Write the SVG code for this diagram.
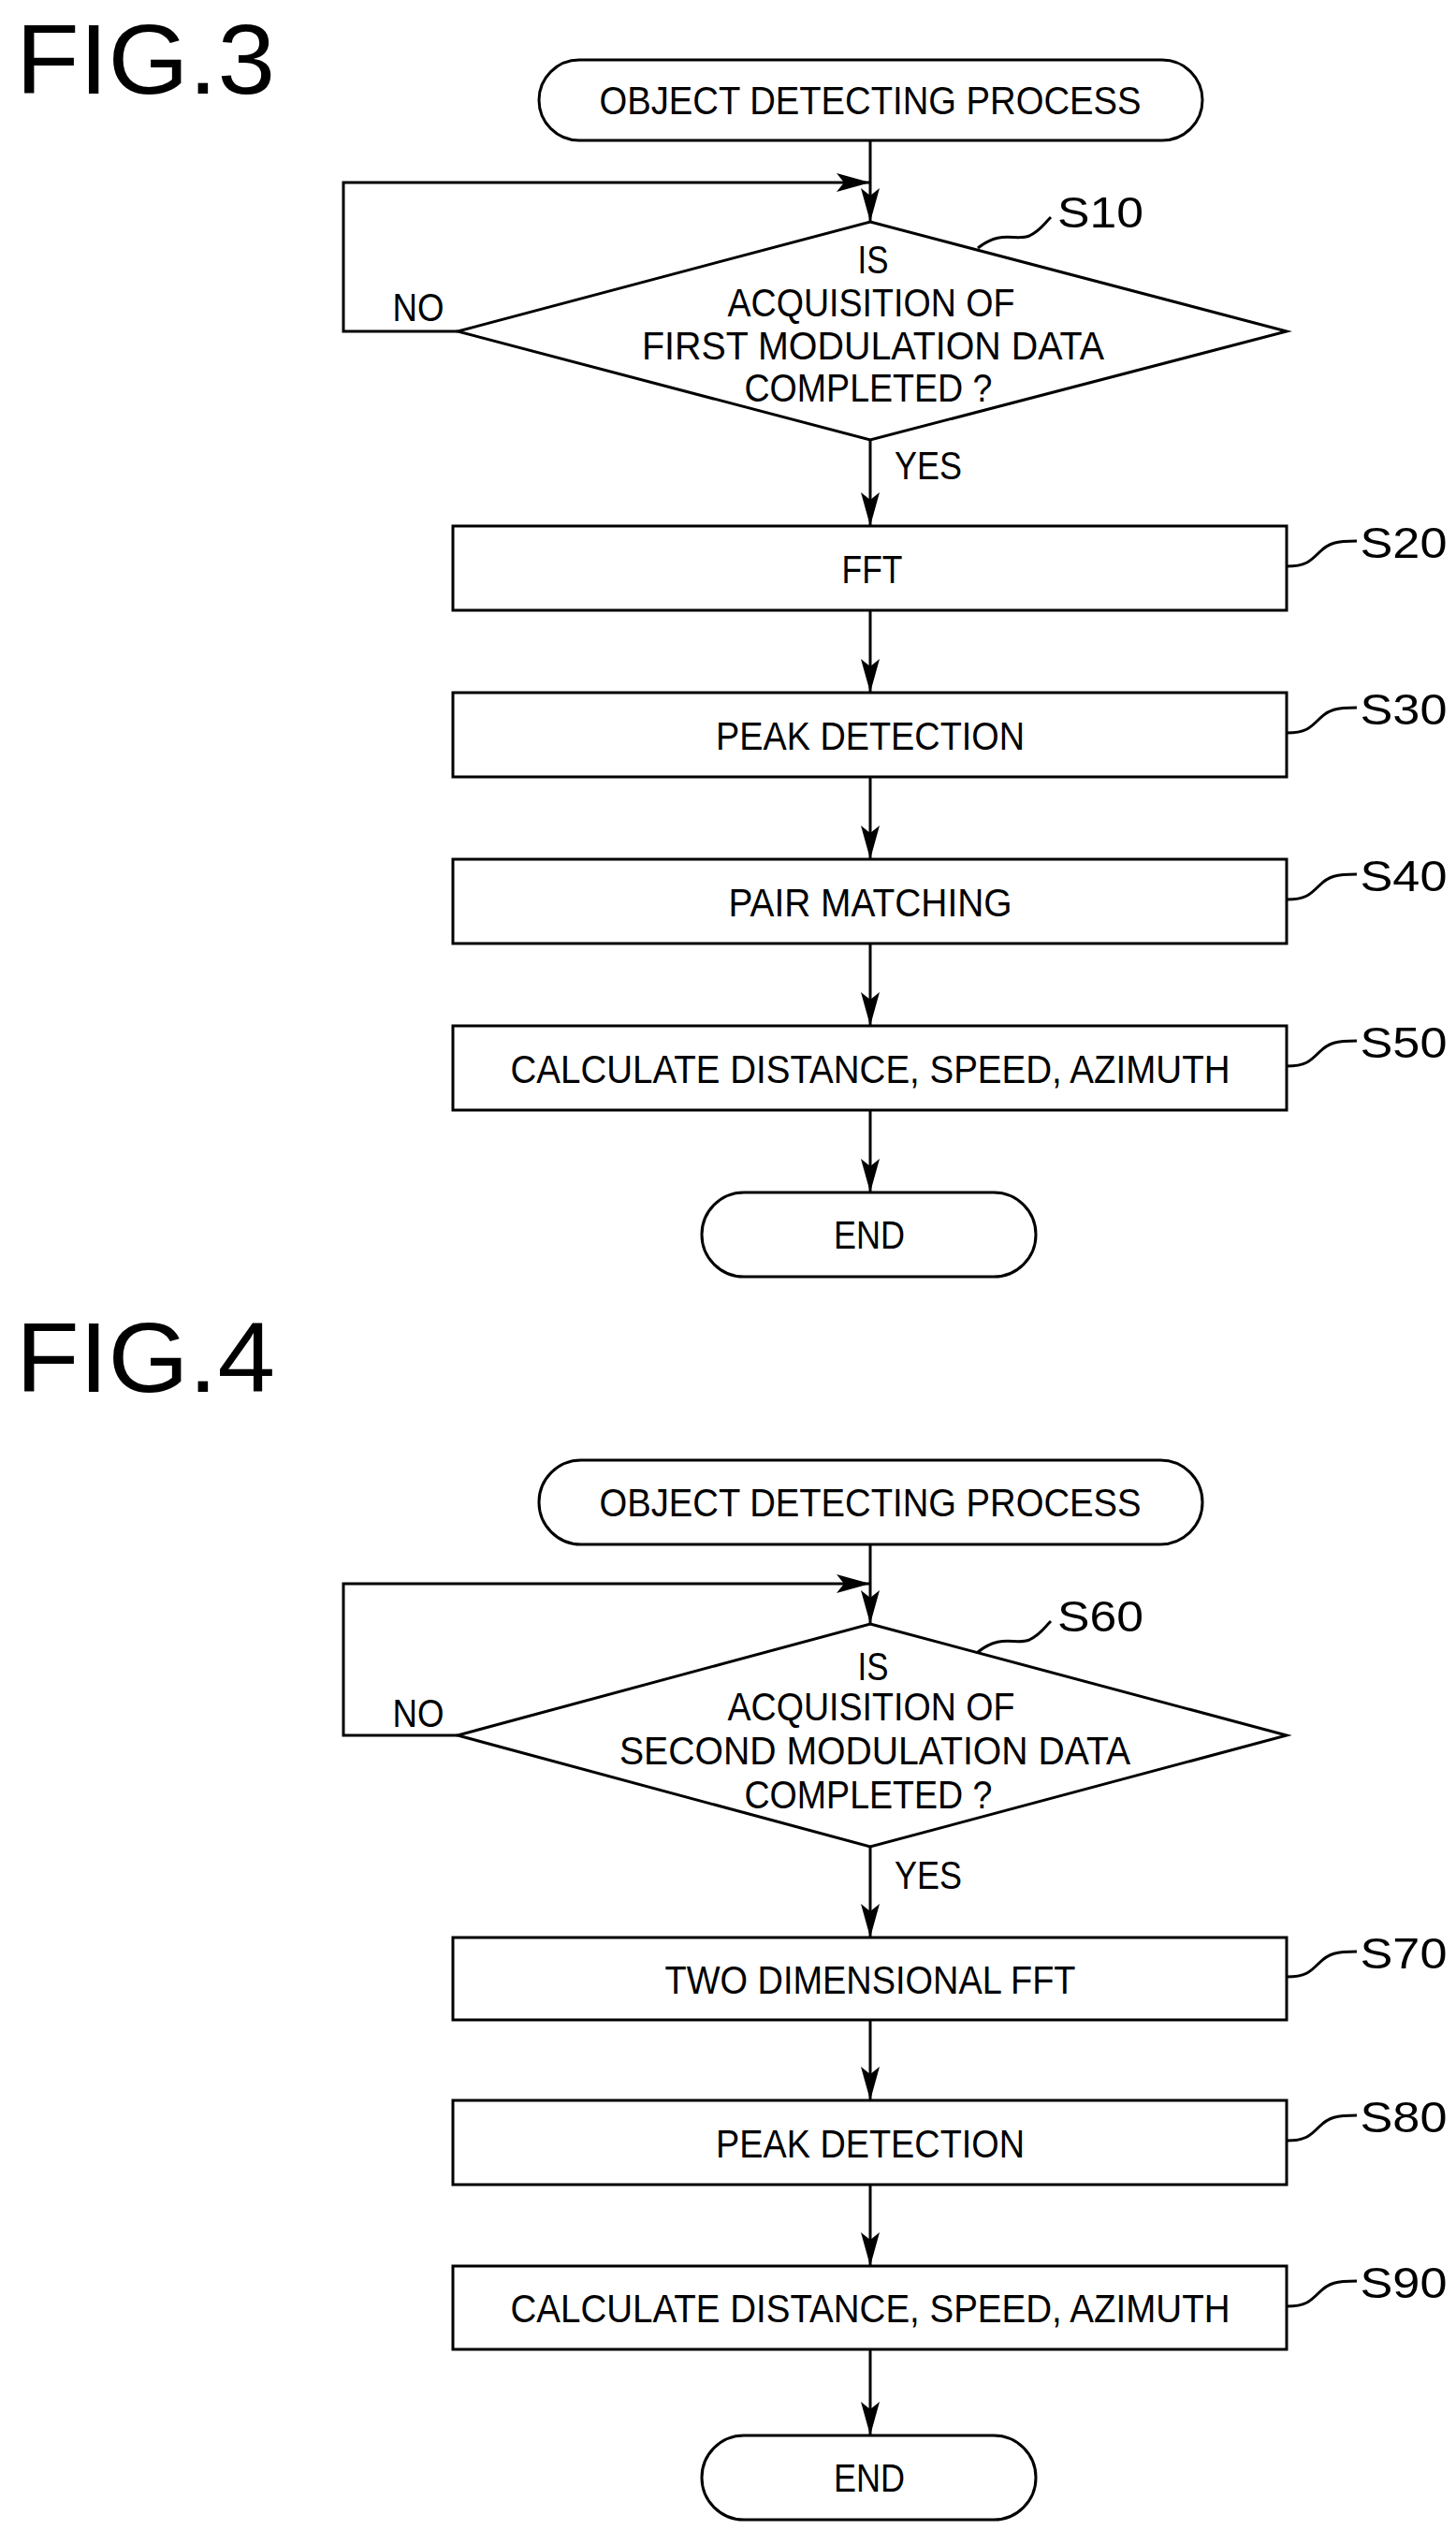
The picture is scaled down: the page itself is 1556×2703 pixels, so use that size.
<svg xmlns="http://www.w3.org/2000/svg" width="1556" height="2703" viewBox="0 0 1556 2703">
<style>
text{font-family:"Liberation Sans",Arial,sans-serif;font-size:42px;fill:#000;text-anchor:middle}
.fig{font-size:106px;text-anchor:start}
.lbl{font-size:46px}
.s{fill:#fff;stroke:#000;stroke-width:3}
.c{fill:none;stroke:#000;stroke-width:3}
</style>
<defs>
<marker id="ah" viewBox="0 0 36 20" refX="36" refY="10" markerWidth="36" markerHeight="20" markerUnits="userSpaceOnUse" orient="auto">
<path d="M0,0 L36,10 L0,20 L8,10 Z" fill="#000"/>
</marker>
</defs>
<text class="fig" x="17" y="100" textLength="277" lengthAdjust="spacingAndGlyphs">FIG.3</text>
<text class="fig" x="17" y="1487" textLength="277" lengthAdjust="spacingAndGlyphs">FIG.4</text>
<g id="connectors">
<path class="c" d="M930,150 V237" marker-end="url(#ah)"/>
<path class="c" d="M489,354 H367 V195 H930" marker-end="url(#ah)"/>
<path class="c" d="M930,470 V562" marker-end="url(#ah)"/>
<path class="c" d="M930,652 V740" marker-end="url(#ah)"/>
<path class="c" d="M930,830 V918" marker-end="url(#ah)"/>
<path class="c" d="M930,1008 V1096" marker-end="url(#ah)"/>
<path class="c" d="M930,1186 V1274" marker-end="url(#ah)"/>
<path class="c" d="M930,1650 V1735" marker-end="url(#ah)"/>
<path class="c" d="M489,1854 H367 V1692 H930" marker-end="url(#ah)"/>
<path class="c" d="M930,1973 V2070" marker-end="url(#ah)"/>
<path class="c" d="M930,2158 V2244" marker-end="url(#ah)"/>
<path class="c" d="M930,2334 V2421" marker-end="url(#ah)"/>
<path class="c" d="M930,2510 V2602" marker-end="url(#ah)"/>
<text x="447" y="343" textLength="55" lengthAdjust="spacingAndGlyphs">NO</text>
<text x="992" y="512" textLength="72" lengthAdjust="spacingAndGlyphs">YES</text>
<text x="447" y="1845" textLength="55" lengthAdjust="spacingAndGlyphs">NO</text>
<text x="992" y="2018" textLength="72" lengthAdjust="spacingAndGlyphs">YES</text>
</g>
<g id="start3"><rect class="s" x="576" y="64" width="709" height="86" rx="43"/><text x="930" y="122" textLength="579" lengthAdjust="spacingAndGlyphs">OBJECT DETECTING PROCESS</text></g>
<g id="S10"><path class="s" d="M930,237 L1375,354 L930,470 L489,354 Z"/>
<text x="933" y="292" textLength="33" lengthAdjust="spacingAndGlyphs">IS</text>
<text x="931" y="338" textLength="307" lengthAdjust="spacingAndGlyphs">ACQUISITION OF</text>
<text x="933" y="384" textLength="494" lengthAdjust="spacingAndGlyphs">FIRST MODULATION DATA</text>
<text x="928" y="429" textLength="265" lengthAdjust="spacingAndGlyphs">COMPLETED ?</text>
<path class="c" d="M1045,265 C1070,245 1085,258 1100,252 C1112,246 1115,240 1123,232" stroke-width="1.5"/>
<text class="lbl" x="1176" y="243" textLength="92" lengthAdjust="spacingAndGlyphs">S10</text></g>
<g id="S20"><rect class="s" x="484" y="562" width="891" height="90"/><text x="932" y="623" textLength="65" lengthAdjust="spacingAndGlyphs">FFT</text>
<path class="c" stroke-width="1.5" d="M1375,605 C1395,605 1400,600 1410,590 C1420,580 1428,578 1450,578"/><text class="lbl" x="1500" y="596" textLength="93" lengthAdjust="spacingAndGlyphs">S20</text></g>
<g id="S30"><rect class="s" x="484" y="740" width="891" height="90"/><text x="930" y="801" textLength="330" lengthAdjust="spacingAndGlyphs">PEAK DETECTION</text>
<path class="c" stroke-width="1.5" d="M1375,783 C1395,783 1400,778 1410,768 C1420,758 1428,756 1450,756"/><text class="lbl" x="1500" y="774" textLength="93" lengthAdjust="spacingAndGlyphs">S30</text></g>
<g id="S40"><rect class="s" x="484" y="918" width="891" height="90"/><text x="930" y="979" textLength="303" lengthAdjust="spacingAndGlyphs">PAIR MATCHING</text>
<path class="c" stroke-width="1.5" d="M1375,961 C1395,961 1400,956 1410,946 C1420,936 1428,934 1450,934"/><text class="lbl" x="1500" y="952" textLength="93" lengthAdjust="spacingAndGlyphs">S40</text></g>
<g id="S50"><rect class="s" x="484" y="1096" width="891" height="90"/><text x="930" y="1157" textLength="769" lengthAdjust="spacingAndGlyphs">CALCULATE DISTANCE, SPEED, AZIMUTH</text>
<path class="c" stroke-width="1.5" d="M1375,1139 C1395,1139 1400,1134 1410,1124 C1420,1114 1428,1112 1450,1112"/><text class="lbl" x="1500" y="1130" textLength="93" lengthAdjust="spacingAndGlyphs">S50</text></g>
<g id="end3"><rect class="s" x="750" y="1274" width="357" height="90" rx="45"/><text x="929" y="1334" textLength="76" lengthAdjust="spacingAndGlyphs">END</text></g>

<g id="start4"><rect class="s" x="576" y="1560" width="709" height="90" rx="45"/><text x="930" y="1620" textLength="579" lengthAdjust="spacingAndGlyphs">OBJECT DETECTING PROCESS</text></g>
<g id="S60"><path class="s" d="M930,1735 L1375,1854 L930,1973 L489,1854 Z"/>
<text x="933" y="1795" textLength="33" lengthAdjust="spacingAndGlyphs">IS</text>
<text x="931" y="1838" textLength="307" lengthAdjust="spacingAndGlyphs">ACQUISITION OF</text>
<text x="935" y="1885" textLength="546" lengthAdjust="spacingAndGlyphs">SECOND MODULATION DATA</text>
<text x="928" y="1932" textLength="265" lengthAdjust="spacingAndGlyphs">COMPLETED ?</text>
<path class="c" d="M1045,1765 C1070,1745 1085,1758 1100,1752 C1112,1746 1115,1740 1123,1732" stroke-width="1.5"/>
<text class="lbl" x="1176" y="1743" textLength="92" lengthAdjust="spacingAndGlyphs">S60</text></g>
<g id="S70"><rect class="s" x="484" y="2070" width="891" height="88"/><text x="930" y="2130" textLength="439" lengthAdjust="spacingAndGlyphs">TWO DIMENSIONAL FFT</text>
<path class="c" stroke-width="1.5" d="M1375,2112 C1395,2112 1400,2107 1410,2097 C1420,2087 1428,2085 1450,2085"/><text class="lbl" x="1500" y="2103" textLength="93" lengthAdjust="spacingAndGlyphs">S70</text></g>
<g id="S80"><rect class="s" x="484" y="2244" width="891" height="90"/><text x="930" y="2305" textLength="330" lengthAdjust="spacingAndGlyphs">PEAK DETECTION</text>
<path class="c" stroke-width="1.5" d="M1375,2287 C1395,2287 1400,2282 1410,2272 C1420,2262 1428,2260 1450,2260"/><text class="lbl" x="1500" y="2278" textLength="93" lengthAdjust="spacingAndGlyphs">S80</text></g>
<g id="S90"><rect class="s" x="484" y="2421" width="891" height="89"/><text x="930" y="2481" textLength="769" lengthAdjust="spacingAndGlyphs">CALCULATE DISTANCE, SPEED, AZIMUTH</text>
<path class="c" stroke-width="1.5" d="M1375,2464 C1395,2464 1400,2459 1410,2449 C1420,2439 1428,2437 1450,2437"/><text class="lbl" x="1500" y="2455" textLength="93" lengthAdjust="spacingAndGlyphs">S90</text></g>
<g id="end4"><rect class="s" x="750" y="2602" width="357" height="90" rx="45"/><text x="929" y="2662" textLength="76" lengthAdjust="spacingAndGlyphs">END</text></g>
</svg>
